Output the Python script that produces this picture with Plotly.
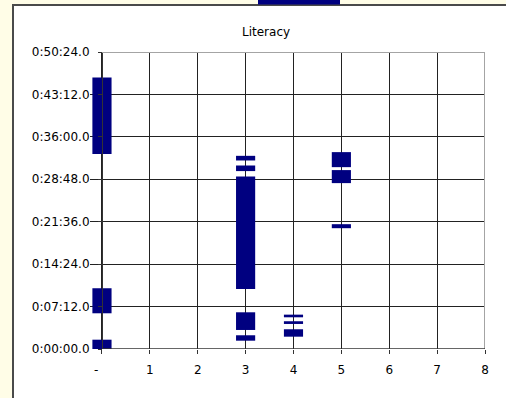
import plotly.graph_objects as go

# ---- data (times in minutes) ----
categories = [0, 0, 0, 3, 3, 3, 3, 3, 4, 4, 4, 5, 5, 5]
low_min = [33.07, 6.06, 0.0, 31.99, 30.19, 10.19, 3.23, 1.41, 5.38, 4.25, 2.09, 30.86, 28.15, 20.50]
high_min = [46.08, 10.31, 1.58, 32.78, 31.14, 29.27, 6.23, 2.33, 5.83, 4.71, 3.35, 33.41, 30.36, 21.18]

y_tick_vals = [0, 7.2, 14.4, 21.6, 28.8, 36.0, 43.2, 50.4]
y_tick_text = ["0:00:00.0", "0:07:12.0", "0:14:24.0", "0:21:36.0",
               "0:28:48.0", "0:36:00.0", "0:43:12.0", "0:50:24.0"]
x_tick_vals = [0, 1, 2, 3, 4, 5, 6, 7, 8]
x_tick_text = ["-\u00a0\u00a0\u00a0", "1", "2", "3", "4", "5", "6", "7", "8"]
title_text = "Literacy"

# ---- layout geometry (pixels) ----
W, H = 506, 398
L, R, T, B = 90, 485, 52, 349
X_MIN, X_MAX = -0.25, 8
Y_MAX = 50.4


def fx(p):
    return (p - L) / (R - L)


def fy(q):
    return (B - q) / (B - T)


heights = [h - l for h, l in zip(high_min, low_min)]

fig = go.Figure()
fig.add_trace(go.Bar(
    x=categories, y=heights, base=low_min, width=0.4,
    marker=dict(color="#000080", line=dict(width=0)),
    showlegend=False, hoverinfo="skip",
))

FONT = dict(family="DejaVu Sans", size=12, color="#000000")
GRID = "#222222"

fig.update_layout(
    width=W, height=H,
    margin=dict(l=L, r=W - R, t=T, b=H - B, pad=0),
    paper_bgcolor="#FFFDE7",
    plot_bgcolor="#FFFFFF",
    barmode="overlay",
    font=FONT,
    xaxis=dict(
        range=[X_MIN, X_MAX], tickvals=x_tick_vals, ticktext=x_tick_text,
        showgrid=True, gridcolor=GRID, gridwidth=1, zeroline=False,
        showline=False, ticks="outside", ticklen=4, tickcolor="#333333",
        tickfont=FONT, ticklabelstandoff=6, fixedrange=True,
    ),
    yaxis=dict(
        range=[0, Y_MAX], tickvals=y_tick_vals, ticktext=y_tick_text,
        anchor="free", position=(0 - X_MIN) / (X_MAX - X_MIN),
        showgrid=True, gridcolor=GRID, gridwidth=1, zeroline=False,
        showline=True, linecolor="#333333", linewidth=1,
        ticks="outside", ticklen=4, tickcolor="#333333",
        tickfont=FONT, ticklabelstandoff=6, fixedrange=True,
    ),
    annotations=[dict(
        text=title_text, xref="paper", yref="paper",
        x=fx(266), y=fy(32), xanchor="center", yanchor="middle",
        showarrow=False, font=FONT,
    )],
    shapes=[
        # chart area (white with dark frame)
        dict(type="rect", xref="paper", yref="paper",
             x0=fx(13), x1=fx(530), y0=fy(5), y1=fy(430),
             fillcolor="#FFFFFF", line=dict(color="#4a4a4a", width=2), layer="below"),
        # navy tab at top edge
        dict(type="rect", xref="paper", yref="paper",
             x0=fx(258), x1=fx(340), y0=fy(-3), y1=fy(4.5),
             fillcolor="#000080", line=dict(width=0), layer="below"),
        # hide gridlines left of the value axis
        dict(type="rect", xref="x", yref="paper",
             x0=X_MIN, x1=0, y0=0, y1=1,
             fillcolor="#FFFFFF", line=dict(width=0), layer="between"),
        # gray top / right plot border
        dict(type="line", xref="x", yref="y", x0=0, x1=X_MAX, y0=Y_MAX, y1=Y_MAX,
             line=dict(color="#a4a4a4", width=2), layer="above"),
        dict(type="line", xref="x", yref="y", x0=X_MAX, x1=X_MAX, y0=0, y1=Y_MAX,
             line=dict(color="#a4a4a4", width=2), layer="above"),
        # bottom category axis line
        dict(type="line", xref="x", yref="y", x0=0, x1=X_MAX, y0=0, y1=0,
             line=dict(color="#333333", width=1.5), layer="above"),
    ],
)

fig.write_html(
    "out.html",
    config={"displayModeBar": False, "staticPlot": True},
    post_script="document.body.style.margin='0';document.body.style.background='#FFFDE7';",
)
